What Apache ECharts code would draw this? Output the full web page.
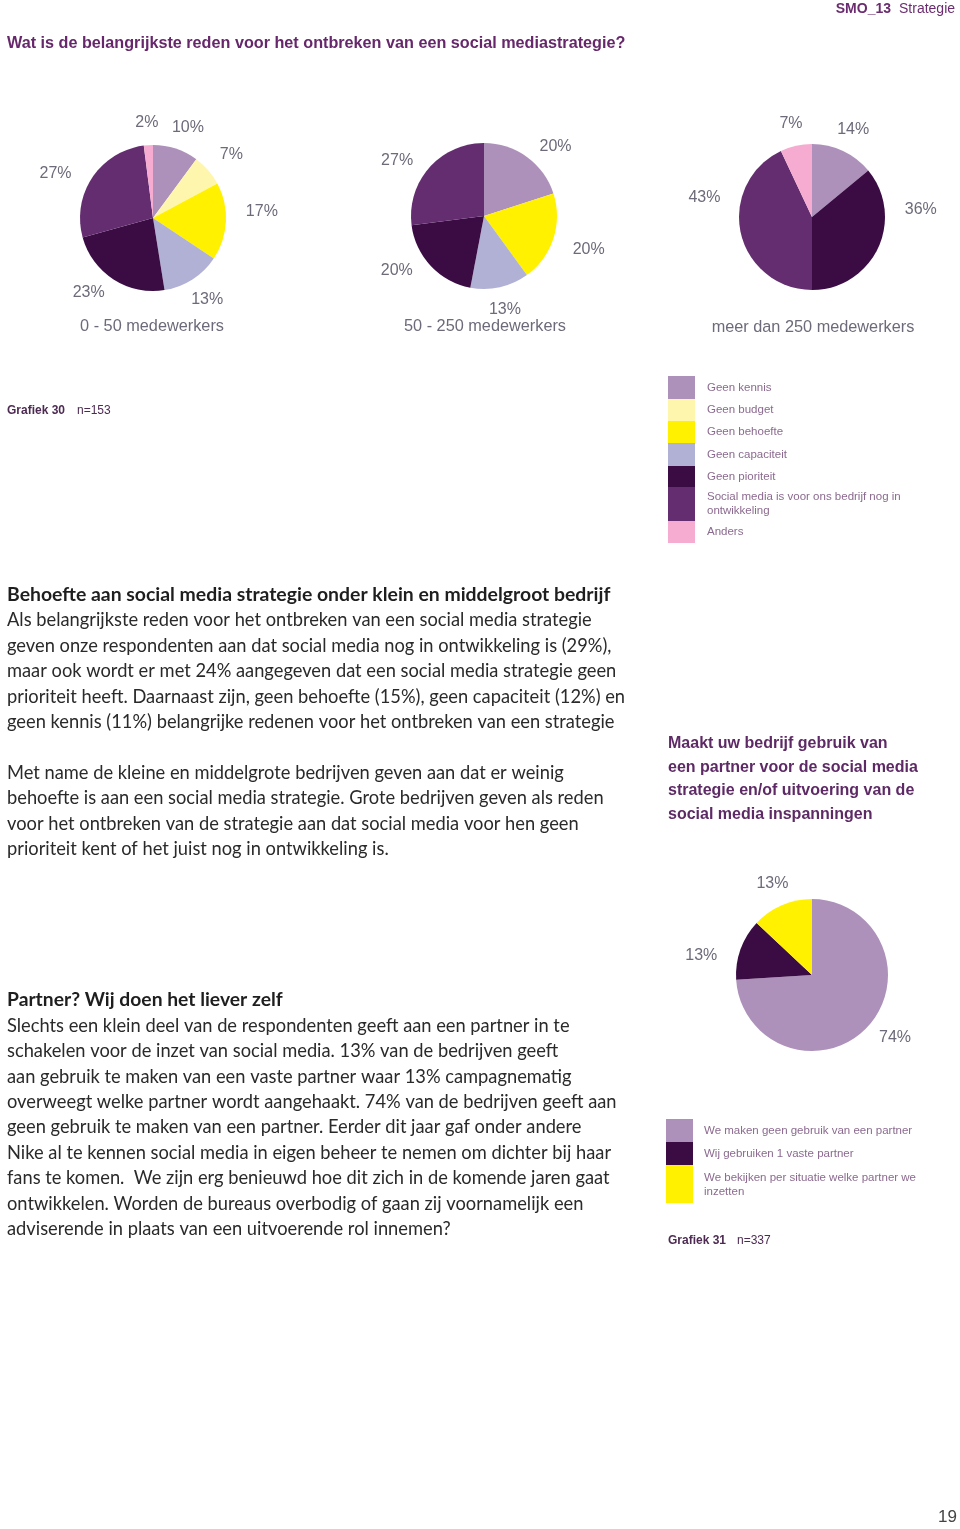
<!DOCTYPE html>
<html>
<head>
<meta charset="utf-8">
<script src="https://cdn.jsdelivr.net/npm/echarts@6/dist/echarts.min.js"></script>
<style>
html,body{margin:0;padding:0;background:#fff;}
#c{width:960px;height:1529px;}
</style>
</head>
<body>
<div id="c"></div>
<script>
// ---- data ----
const categories = ['Geen kennis', 'Geen budget', 'Geen behoefte', 'Geen capaciteit', 'Geen pioriteit', 'Social media is voor ons bedrijf nog in ontwikkeling', 'Anders'];
const legendLines = [['Geen kennis'], ['Geen budget'], ['Geen behoefte'], ['Geen capaciteit'], ['Geen pioriteit'], ['Social media is voor ons bedrijf nog in', 'ontwikkeling'], ['Anders']];
const small = [10, 7, 17, 13, 23, 27, 2];      // 0 - 50 medewerkers
const medium = [20, 0, 20, 13, 20, 27, 0];     // 50 - 250 medewerkers
const large = [14, 0, 0, 0, 36, 43, 7];        // meer dan 250 medewerkers
const groupTitles = ['0 - 50 medewerkers', '50 - 250 medewerkers', 'meer dan 250 medewerkers'];

const partnerCats = ['We maken geen gebruik van een partner', 'Wij gebruiken 1 vaste partner', 'We bekijken per situatie welke partner we inzetten'];
const partnerLegendLines = [['We maken geen gebruik van een partner'], ['Wij gebruiken 1 vaste partner'], ['We bekijken per situatie welke partner we', 'inzetten']];
const partnerVals = [74, 13, 13];

const para1 = [
  'Als belangrijkste reden voor het ontbreken van een social media strategie',
  'geven onze respondenten aan dat social media nog in ontwikkeling is (29%),',
  'maar ook wordt er met 24% aangegeven dat een social media strategie geen',
  'prioriteit heeft. Daarnaast zijn, geen behoefte (15%), geen capaciteit (12%) en',
  'geen kennis (11%) belangrijke redenen voor het ontbreken van een strategie',
  '',
  'Met name de kleine en middelgrote bedrijven geven aan dat er weinig',
  'behoefte is aan een social media strategie. Grote bedrijven geven als reden',
  'voor het ontbreken van de strategie aan dat social media voor hen geen',
  'prioriteit kent of het juist nog in ontwikkeling is.'
];
const para2 = [
  'Slechts een klein deel van de respondenten geeft aan een partner in te',
  'schakelen voor de inzet van social media. 13% van de bedrijven geeft',
  'aan gebruik te maken van een vaste partner waar 13% campagnematig',
  'overweegt welke partner wordt aangehaakt. 74% van de bedrijven geeft aan',
  'geen gebruik te maken van een partner. Eerder dit jaar gaf onder andere',
  'Nike al te kennen social media in eigen beheer te nemen om dichter bij haar',
  'fans te komen.  We zijn erg benieuwd hoe dit zich in de komende jaren gaat',
  'ontwikkelen. Worden de bureaus overbodig of gaan zij voornamelijk een',
  'adviserende in plaats van een uitvoerende rol innemen?'
];
const sideTitle = ['Maakt uw bedrijf gebruik van', 'een partner voor de social media', 'strategie en/of uitvoering van de', 'social media inspanningen'];

// ---- styles ----
const colors = ['#ad91ba', '#fff6ae', '#fff100', '#b1b1d6', '#3a0c43', '#632d6f', '#f5acd0'];
const partnerColors = ['#ad91ba', '#3a0c43', '#fff100'];
const SANS = "'Liberation Sans', Arial, sans-serif";
const BODY = "Lato, 'Open Sans', sans-serif";
const labelColor = '#6d6a79';
const LABEL_GAP = 15;
// label placement tweaks (degrees clockwise, "best fit" style) per slice
const shiftSmall = [3, 2, -6, -1, 8, -9, 0];
const shiftMedium = [10, 0, 0, 0, 11, -9, 0];
const shiftLarge = [0, 0, 0, 0, -29, 23, 0];
const shiftPartner = [-6, -10, 0];

function pieData(vals, cats, cols) {
  const out = [];
  vals.forEach((v, i) => { if (v > 0) out.push({ name: cats[i], value: v, itemStyle: { color: cols[i] } }); });
  return out;
}
// pie with "outside end" labels: each label box sits a fixed gap outside the rim,
// along the slice's mid-angle (label starts centered inside, then is pushed out).
function pieSeries(vals, cats, cols, center, r, shifts) {
  const cx = center[0], cy = center[1];
  const idx = [];
  vals.forEach((v, i) => { if (v > 0) idx.push(i); });
  return {
    type: 'pie', center: center, radius: r, startAngle: 90, clockwise: true,
    silent: true, animation: false, avoidLabelOverlap: false,
    data: pieData(vals, cats, cols),
    label: { show: true, position: 'inside', formatter: '{c}%', color: labelColor, fontSize: 16, fontFamily: SANS },
    labelLine: { show: false },
    labelLayout: function (p) {
      const lr = p.labelRect;
      const lx = lr.x + lr.width / 2, ly = lr.y + lr.height / 2;
      let th = Math.atan2(lx - cx, -(ly - cy));
      th += ((shifts && shifts[idx[p.dataIndex]]) || 0) * Math.PI / 180;
      const ux = Math.sin(th), uy = -Math.cos(th);
      const s = Math.abs(ux), c = Math.abs(uy);
      const hw = lr.width / 2 + 5, hh = lr.height / 2;
      const ext = Math.min(s > 1e-6 ? hw / s : Infinity, c > 1e-6 ? hh / c : Infinity);
      const nd = r + LABEL_GAP + ext;
      return { x: cx + ux * nd, y: cy + uy * nd, align: 'center', verticalAlign: 'middle' };
    },
    itemStyle: { borderWidth: 0 }
  };
}

const g = [];
function txt(x, y, text, opt) {
  g.push({ type: 'text', x: x, y: y, silent: true, style: Object.assign({ text: text, fill: '#2a2a2a', fontSize: 14, fontFamily: SANS, verticalAlign: 'middle', align: 'left' }, opt || {}) });
}

// header
txt(891, 9, 'SMO_13', { fill: '#6b2c6f', fontWeight: 'bold', fontSize: 14, align: 'right' });
txt(899, 9, 'Strategie', { fill: '#6b2c6f', fontSize: 14 });
txt(7, 44, 'Wat is de belangrijkste reden voor het ontbreken van een social mediastrategie?', { fill: '#66276b', fontWeight: 'bold', fontSize: 16.2 });

// pie subtitles
const subPos = [[152, 327], [485, 327], [813, 328]];
groupTitles.forEach((t, i) => txt(subPos[i][0], subPos[i][1], t, { fill: '#6d6a79', fontSize: 16.3, align: 'center' }));

// grafiek 30
txt(7, 411, 'Grafiek 30', { fill: '#4d2a52', fontWeight: 'bold', fontSize: 12 });
txt(77, 411, 'n=153', { fill: '#4d2a52', fontSize: 12 });

// legend 1
const l1Rows = [[376, 23], [399, 22], [421, 22], [443, 23], [466, 21], [487, 34], [521, 22]];
categories.forEach((c, i) => {
  const [y, h] = l1Rows[i];
  g.push({ type: 'rect', silent: true, shape: { x: 668, y: y, width: 27, height: h }, style: { fill: colors[i] } });
  legendLines[i].forEach((ln, k) => txt(707, (legendLines[i].length > 1 ? y + 10 : y + h / 2) + k * 14, ln, { fill: '#8b6a8f', fontSize: 11.5 }));
});

// body text 1
txt(7, 595, 'Behoefte aan social media strategie onder klein en middelgroot bedrijf', { fontFamily: BODY, fontWeight: 'bold', fontSize: 19.4, fill: '#1e1e1e' });
para1.forEach((ln, i) => { if (ln) txt(7, 620.5 + i * 25.4, ln, { fontFamily: BODY, fontSize: 18.3, fill: '#2a2a2a' }); });

// side title
sideTitle.forEach((ln, i) => txt(668, 744 + i * 23.4, ln, { fill: '#5e2a66', fontWeight: 'bold', fontSize: 16 }));

// body text 2
txt(7, 1000, 'Partner? Wij doen het liever zelf', { fontFamily: BODY, fontWeight: 'bold', fontSize: 19.3, fill: '#1e1e1e' });
para2.forEach((ln, i) => txt(7, 1026 + i * 25.4, ln, { fontFamily: BODY, fontSize: 18.3, fill: '#2a2a2a' }));

// legend 2
const l2Rows = [[1119, 23], [1142, 23], [1165, 38]];
partnerCats.forEach((c, i) => {
  const [y, h] = l2Rows[i];
  g.push({ type: 'rect', silent: true, shape: { x: 666, y: y, width: 27, height: h }, style: { fill: partnerColors[i] } });
  partnerLegendLines[i].forEach((ln, k) => txt(704, (partnerLegendLines[i].length > 1 ? y + 13 : y + h / 2) + k * 14, ln, { fill: '#8b6a8f', fontSize: 11.5 }));
});
txt(668, 1241, 'Grafiek 31', { fill: '#4d2a52', fontWeight: 'bold', fontSize: 12 });
txt(737, 1241, 'n=337', { fill: '#4d2a52', fontSize: 12 });

// page number
txt(957, 1517, '19', { fill: '#444', fontSize: 17, align: 'right' });

const chart = echarts.init(document.getElementById('c'), null, { renderer: 'canvas' });
chart.setOption({
  backgroundColor: '#ffffff',
  animation: false,
  series: [
    pieSeries(small, categories, colors, [153, 218], 73, shiftSmall),
    pieSeries(medium, categories, colors, [484, 216], 73, shiftMedium),
    pieSeries(large, categories, colors, [812, 217], 73, shiftLarge),
    pieSeries(partnerVals, partnerCats, partnerColors, [812, 975], 76, shiftPartner)
  ],
  graphic: g
});
</script>
</body>
</html>
